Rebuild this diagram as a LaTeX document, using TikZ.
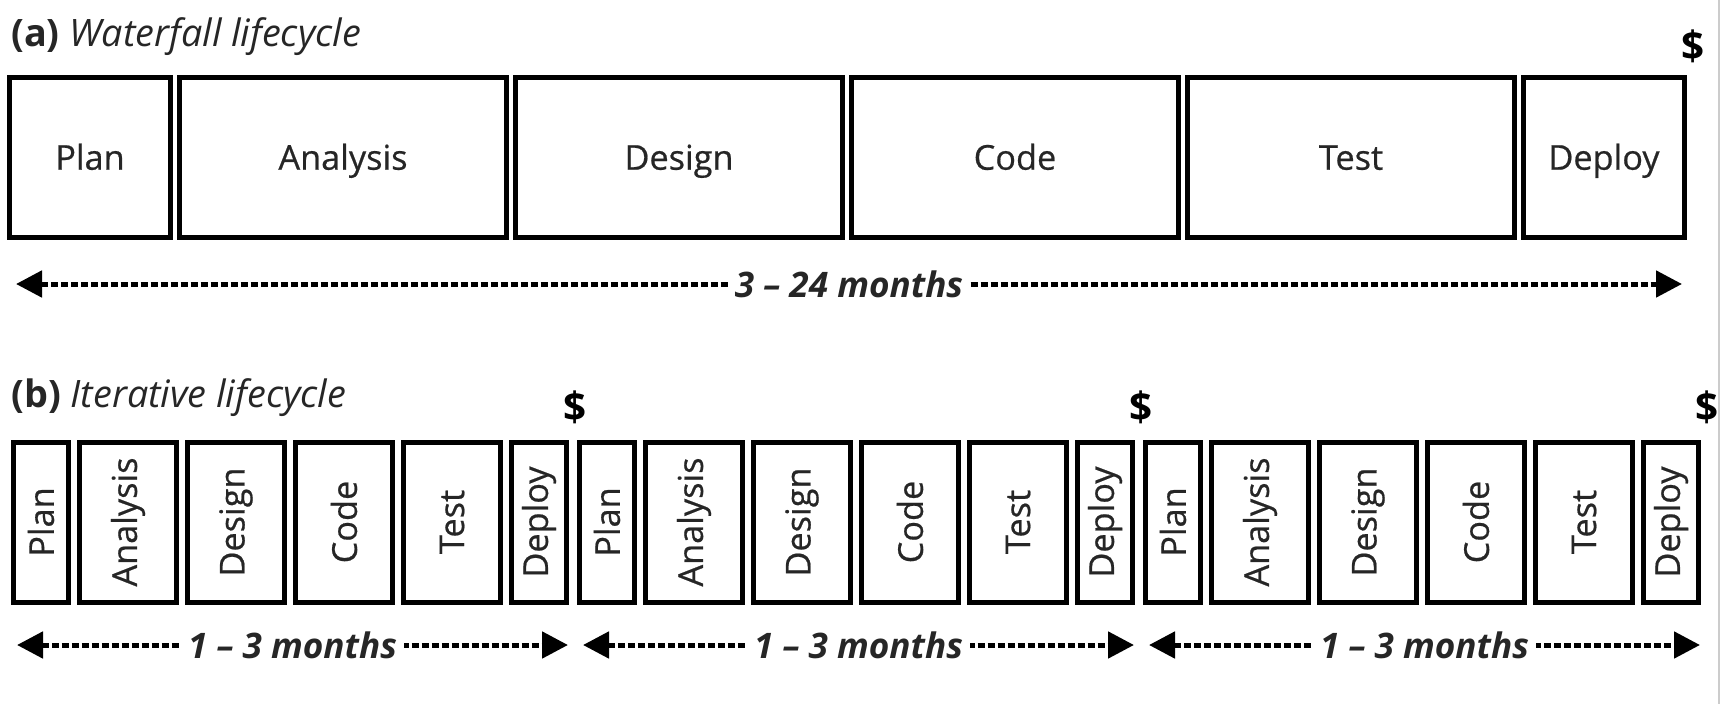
\documentclass[tikz,border=0pt]{standalone}
\usepackage{fontspec}
\setmainfont{Open Sans}
\newfontfamily\medfont[FakeBold=0.6]{Open Sans}
\usetikzlibrary{arrows.meta,positioning,calc}
\newcommand{\phfont}{\medfont\fontsize{19.5}{23}\selectfont}
\tikzset{
  phase/.style={draw=black, line width=0.1cm, inner sep=0pt, minimum height=3.2cm,
                font=\phfont, text=black!85},
  flat/.style={text height=13.9pt, text depth=0pt},
  wide/.style={phase, flat, minimum width=6.54cm},
  narrow/.style={phase, flat, minimum width=3.22cm},
  slim/.style={phase, minimum width=1.1cm},
  mid/.style={phase, minimum width=1.94cm},
  span/.style={{Triangle[length=0.52cm, width=0.52cm]}-{Triangle[length=0.52cm, width=0.52cm]},
               line width=0.1cm, dash pattern=on 0.15cm off 0.05cm},
  dur/.style={fill=white, inner sep=4pt, font=\fontsize{20}{24}\selectfont\bfseries\itshape,
              text=black!85},
  cash/.style={font=\fontsize{23}{25}\selectfont\bfseries, inner sep=0pt},
  ttl/.style={font=\fontsize{21.5}{25}\selectfont, anchor=base west, inner sep=0pt,
              text=black!85},
}

\begin{document}
\begin{tikzpicture}
  \useasboundingbox (0,0) rectangle (34.48,-14.08);
  % (a) waterfall
  \node[ttl] (titleA) at (0.22,-0.92) {\textbf{(a)} \textit{Waterfall lifecycle}};
  \node[narrow, anchor=west] (wPlan) at (0.14,-3.15) {Plan};
  \node[wide, right=0.08cm of wPlan] (wAnalysis) {Analysis};
  \node[wide, right=0.08cm of wAnalysis] (wDesign) {Design};
  \node[wide, right=0.08cm of wDesign] (wCode) {Code};
  \node[wide, right=0.08cm of wCode] (wTest) {Test};
  \node[narrow, right=0.08cm of wTest] (wDeploy) {Deploy};
  \node[cash] (wCash) at ([xshift=0.12cm, yshift=0.58cm]wDeploy.north east) {\$};
  \coordinate (wL) at (0.32,-5.68);
  \coordinate (wR) at (33.64,-5.68);
  \draw[span] (wL) -- node[dur] (wDur) {3 -- 24 months} (wR);
  % (b) iterative
  \node[ttl] (titleB) at (0.22,-8.14) {\textbf{(b)} \textit{Iterative lifecycle}};
  \foreach \g in {0,1,2} {
    \begin{scope}[xshift=\g*11.32cm]
      \node[slim, anchor=west] (i\g-plan) at (0.22,-10.44) {\rotatebox{90}{Plan}};
      \node[mid, right=0.12cm of i\g-plan] (i\g-analysis) {\rotatebox{90}{Analysis}};
      \node[mid, right=0.12cm of i\g-analysis] (i\g-design) {\rotatebox{90}{Design}};
      \node[mid, right=0.12cm of i\g-design] (i\g-code) {\rotatebox{90}{Code}};
      \node[mid, right=0.12cm of i\g-code] (i\g-test) {\rotatebox{90}{Test}};
      \node[slim, right=0.12cm of i\g-test] (i\g-deploy) {\rotatebox{90}{Deploy}};
      \node[cash] (i\g-cash) at ([xshift=0.12cm, yshift=0.64cm]i\g-deploy.north east) {\$};
      \coordinate (i\g-l) at (0.34,-12.9);
      \coordinate (i\g-r) at (11.36,-12.9);
      \draw[span] (i\g-l) -- node[dur] (i\g-dur) {1 -- 3 months} (i\g-r);
    \end{scope}
  }
  % scan edge
  \draw[gray!40, line width=0.04cm] (34.38,0) -- (34.38,-14.08);
\end{tikzpicture}
\end{document}
